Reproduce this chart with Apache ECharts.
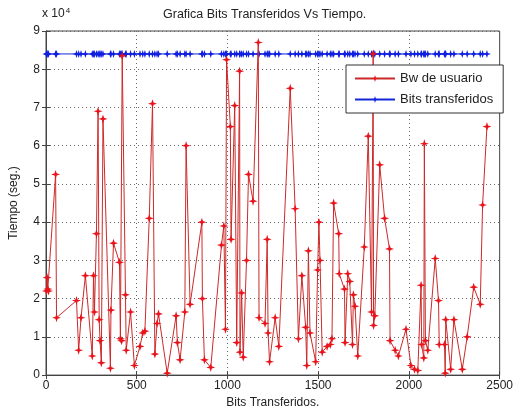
<!DOCTYPE html>
<html>
<head>
<meta charset="utf-8">
<script src="https://cdn.jsdelivr.net/npm/echarts@6/dist/echarts.min.js"></script>
<style>
  html, body { margin: 0; padding: 0; background: #fff; }
  #main { width: 516px; height: 414px; }
</style>
</head>
<body>
<div id="main"></div>
<script>
// bits transferidos (x) for every sample
var bitsX = [
  2, 6, 10, 14, 53, 58, 168, 180, 193, 217, 255, 262, 267, 278, 287, 293, 298, 305, 314,
  355, 358, 372, 405, 410, 417, 420, 438, 442, 466, 487, 518, 533, 545, 569, 587, 600,
  612, 620, 668, 717, 724, 739, 765, 772, 794, 859, 862, 873, 908, 967, 980, 989, 995,
  1016, 1020, 1040, 1051, 1067, 1069, 1078, 1087, 1105, 1116, 1141, 1170, 1174, 1207,
  1219, 1224, 1232, 1263, 1283, 1346, 1373, 1391, 1410, 1431, 1437, 1446, 1455, 1486,
  1497, 1504, 1510, 1522, 1549, 1567, 1576, 1585, 1613, 1616, 1645, 1648, 1663, 1674,
  1689, 1694, 1703, 1718, 1754, 1776, 1794, 1803, 1805, 1812, 1839, 1866, 1893, 1896,
  1924, 1942, 1984, 2011, 2031, 2049, 2067, 2070, 2082, 2085, 2091, 2104, 2145, 2163,
  2167, 2196, 2200, 2203, 2230, 2248, 2294, 2321, 2357, 2393, 2406, 2430
]
// Bw de usuario (tiempo) for every sample
var bwY = [
  22000, 25500, 22500, 22000, 52500, 15000, 19500, 6500, 15000, 26000, 5000, 26000, 16500, 37000, 69000, 14500, 9000, 3200, 67000,
  1800, 17000, 34500, 29500, 9500, 9000, 83500, 21000, 6500, 16500, 2500, 7500, 11000, 11500, 41000, 71000, 5500,
  13500, 16000, 500, 15500, 8500, 4000, 16500, 60000, 18500, 40000, 20000, 4000, 2000, 34000, 39000, 12000, 82500,
  65000, 35500, 70500, 8500, 79500, 6000, 21500, 4700, 30000, 52500, 45500, 87000, 15000, 13500,
  35500, 11000, 3500, 15000, 7500, 75000, 43500, 9500, 26000, 12500, 2500, 32500, 11000, 3500,
  27500, 40000, 30000, 6000, 7500, 8000, 9500, 45000, 37000, 26500, 22500, 8500, 26500, 24500,
  8000, 21000, 18000, 5000, 33500, 62500, 16500, 84000, 13000, 15500, 55000, 41000, 33000, 9000,
  6500, 5000, 12000, 2500, 1500, 1200, 23500, 8000, 4500, 60500, 9000, 6500, 30500, 19500,
  8000, 8000, 500, 14500, 1500, 14500, 1500, 10000, 23000, 18500, 44500, 65000
]
// Bits transferidos level (constant row at the top)
var bitsLevel = [84000]
var xTicks = [0, 500, 1000, 1500, 2000, 2500]
var yTicks = [0, 10000, 20000, 30000, 40000, 50000, 60000, 70000, 80000, 90000]

var bwData = bitsX.map(function (x, i) { return [x, bwY[i]] })
var bitsData = bitsX.map(function (x) { return [x, bitsLevel[0]] })

var star = 'path://M0,-5 L1.2,-1.2 L5,0 L1.2,1.2 L0,5 L-1.2,1.2 L-5,0 L-1.2,-1.2 Z'
var font = 'Liberation Sans'

var chartDom = document.getElementById('main')
var myChart = echarts.init(chartDom)
var option

option = {
  animation: false,
  backgroundColor: '#fff',
  textStyle: { fontFamily: font },
  grid: {
    left: 42, right: 14, top: 31, bottom: 36,
    show: true, borderColor: '#444', borderWidth: 1, backgroundColor: '#fff'
  },
  graphic: [
    {
      type: 'text', left: 163, top: 8,
      style: { text: 'Grafica Bits Transferidos Vs Tiempo.', fontSize: 12.5, fill: '#222', fontFamily: font }
    },
    {
      type: 'text', left: 42, top: 7,
      style: {
        text: 'x 10{s|4}', fontSize: 12, fill: '#222', fontFamily: font,
        rich: { s: { fontSize: 8, verticalAlign: 'top', padding: [0, 0, 6, 1], fill: '#222', fontFamily: font } }
      }
    }
  ],
  legend: {
    orient: 'vertical',
    left: 346, top: 65,
    padding: [7, 10, 7, 8],
    itemGap: 8,
    itemWidth: 40, itemHeight: 9,
    backgroundColor: '#fff',
    borderColor: '#333', borderWidth: 1,
    textStyle: { fontSize: 13, color: '#222', fontFamily: font },
    data: ['Bw de usuario', 'Bits transferidos']
  },
  xAxis: [
    {
      type: 'value', min: 0, max: 2500, interval: 500,
      name: 'Bits Transferidos.', nameLocation: 'middle', nameGap: 20,
      nameTextStyle: { fontSize: 12, color: '#222' },
      axisLine: { show: true, lineStyle: { color: '#444' } },
      axisTick: { inside: true, length: 4, lineStyle: { color: '#444' } },
      axisLabel: {
        fontSize: 12, color: '#222', margin: 5,
        formatter: function (v) { return xTicks.indexOf(v) >= 0 ? String(v) : '' }
      },
      splitLine: { show: true, lineStyle: { color: '#666', type: [1, 3] } }
    },
    {
      type: 'value', min: 0, max: 2500, interval: 500, position: 'top',
      axisLine: { show: true, lineStyle: { color: '#444' } },
      axisTick: { inside: true, length: 4, lineStyle: { color: '#444' } },
      axisLabel: { show: false }, splitLine: { show: false }
    }
  ],
  yAxis: [
    {
      type: 'value', min: 0, max: 90000, interval: 10000,
      name: 'Tiempo (seg.)', nameLocation: 'middle', nameGap: 26,
      nameTextStyle: { fontSize: 12, color: '#222' },
      axisLine: { show: true, lineStyle: { color: '#444' } },
      axisTick: { inside: true, length: 4, lineStyle: { color: '#444' } },
      axisLabel: {
        fontSize: 12, color: '#222', margin: 6,
        formatter: function (v) { return yTicks.indexOf(v) >= 0 ? String(v / 10000) : '' }
      },
      splitLine: { show: true, lineStyle: { color: '#666', type: [1, 3] } }
    },
    {
      type: 'value', min: 0, max: 90000, interval: 10000, position: 'right',
      axisLine: { show: true, lineStyle: { color: '#444' } },
      axisTick: { inside: true, length: 4, lineStyle: { color: '#444' } },
      axisLabel: { show: false }, splitLine: { show: false }
    }
  ],
  series: [
    {
      name: 'Bw de usuario',
      type: 'line',
      data: bwData,
      symbol: star, symbolSize: 9,
      showAllSymbol: true,
      lineStyle: { color: '#cc2a2a', width: 1 },
      itemStyle: { color: '#e8141c' },
      z: 3
    },
    {
      name: 'Bits transferidos',
      type: 'line',
      data: bitsData,
      symbol: star, symbolSize: 8,
      showAllSymbol: true,
      lineStyle: { color: '#1428d8', width: 1 },
      itemStyle: { color: '#1020e0' },
      z: 2
    }
  ]
}

option && myChart.setOption(option)
</script>
</body>
</html>
